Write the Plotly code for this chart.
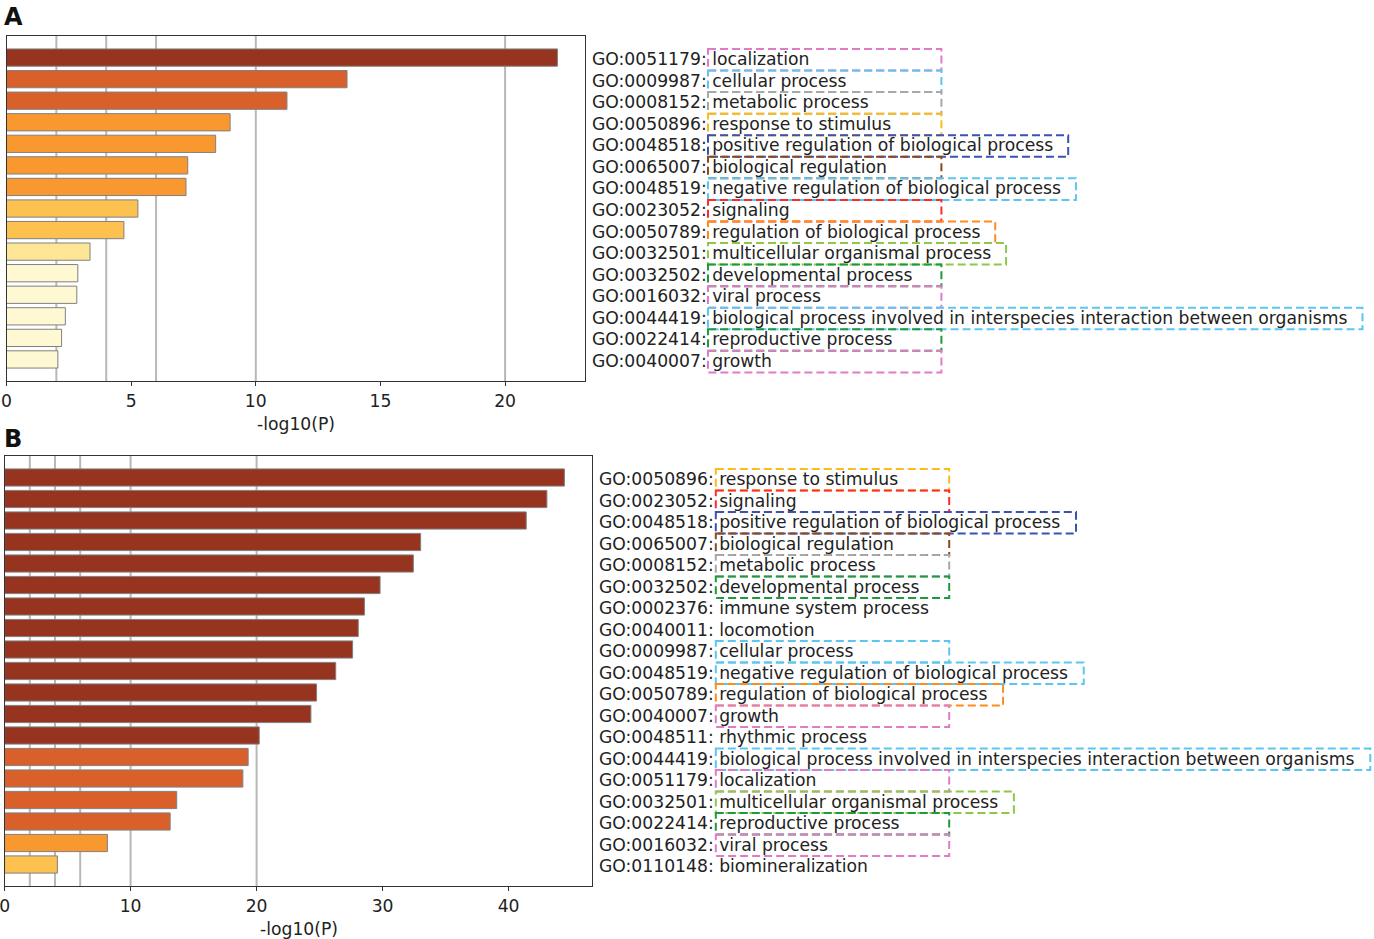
import plotly.graph_objects as go

W, H = 1374, 939
FONT = "DejaVu Sans"
FS = 17.2

# ---------------- data ----------------
a_ids = ["GO:0051179", "GO:0009987", "GO:0008152", "GO:0050896", "GO:0048518",
         "GO:0065007", "GO:0048519", "GO:0023052", "GO:0050789", "GO:0032501",
         "GO:0032502", "GO:0016032", "GO:0044419", "GO:0022414", "GO:0040007"]
a_terms = ["localization", "cellular process", "metabolic process", "response to stimulus",
           "positive regulation of biological process", "biological regulation",
           "negative regulation of biological process", "signaling",
           "regulation of biological process", "multicellular organismal process",
           "developmental process", "viral process",
           "biological process involved in interspecies interaction between organisms",
           "reproductive process", "growth"]
a_values = [22.1, 13.66, 11.25, 8.97, 8.39, 7.27, 7.2, 5.27, 4.71, 3.35,
            2.86, 2.82, 2.36, 2.21, 2.06]

b_ids = ["GO:0050896", "GO:0023052", "GO:0048518", "GO:0065007", "GO:0008152",
         "GO:0032502", "GO:0002376", "GO:0040011", "GO:0009987", "GO:0048519",
         "GO:0050789", "GO:0040007", "GO:0048511", "GO:0044419", "GO:0051179",
         "GO:0032501", "GO:0022414", "GO:0016032", "GO:0110148"]
b_terms = ["response to stimulus", "signaling", "positive regulation of biological process",
           "biological regulation", "metabolic process", "developmental process",
           "immune system process", "locomotion", "cellular process",
           "negative regulation of biological process", "regulation of biological process",
           "growth", "rhythmic process",
           "biological process involved in interspecies interaction between organisms",
           "localization", "multicellular organismal process", "reproductive process",
           "viral process", "biomineralization"]
b_values = [44.43, 43.04, 41.4, 33.02, 32.44, 29.8, 28.56, 28.07, 27.62, 26.28,
            24.76, 24.31, 20.21, 19.33, 18.91, 13.66, 13.14, 8.16, 4.19]

tick_step_a = 5
tick_step_b = 10
grid_values = [2, 4, 6, 10, 20]
x_title = "-log10(P)"

# ---------------- style ----------------
bar_bins = [(20, "#963420"), (10, "#d9602a"), (6, "#f8982f"),
            (4, "#fdc14f"), (3, "#fee697"), (0, "#fef9d2")]

box_colors = {
    "localization": "#e07cc6",
    "growth": "#e07cc6",
    "viral process": "#e07cc6",
    "cellular process": "#5cc6f2",
    "negative regulation of biological process": "#5cc6f2",
    "biological process involved in interspecies interaction between organisms": "#5cc6f2",
    "metabolic process": "#a8a8a8",
    "response to stimulus": "#fbbc1a",
    "positive regulation of biological process": "#3a52b4",
    "biological regulation": "#8e4a1c",
    "signaling": "#ff2b2b",
    "regulation of biological process": "#ff8c1a",
    "multicellular organismal process": "#8cc84b",
    "developmental process": "#1c9a3e",
    "reproductive process": "#1c9a3e",
}

char_w = {'a': .613, 'b': .635, 'c': .550, 'd': .635, 'e': .615, 'f': .352, 'g': .635,
          'h': .634, 'i': .278, 'j': .278, 'k': .579, 'l': .278, 'm': .974, 'n': .634,
          'o': .612, 'p': .635, 'q': .635, 'r': .411, 's': .521, 't': .392, 'u': .634,
          'v': .592, 'w': .818, 'x': .592, 'y': .592, 'z': .525, ' ': .318}


def text_width(s):
    return sum(char_w.get(c, .6) for c in s) * FS


def bar_color(v):
    for thr, col in bar_bins:
        if v >= thr:
            return col
    return bar_bins[-1][1]


def px_x(p):
    return p / W


def px_y(p):
    return 1 - p / H


panels = [
    dict(ids=a_ids, terms=a_terms, vals=a_values, step=tick_step_a, name="A",
         xpx=(6.5, 585), ypx=(36, 381), label_px=591.5, letter_y=17, title_y=424,
         xa="x", ya="y"),
    dict(ids=b_ids, terms=b_terms, vals=b_values, step=tick_step_b, name="B",
         xpx=(4.6, 592.4), ypx=(456, 886), label_px=599.3, letter_y=439, title_y=929,
         xa="x2", ya="y2"),
]

fig = go.Figure()
shapes = []
annotations = []
layout_axes = {}

for k, p in enumerate(panels):
    n = len(p["vals"])
    idx = list(range(n))
    fig.add_trace(go.Bar(
        x=p["vals"], y=idx, orientation="h", width=0.8,
        marker=dict(color=[bar_color(v) for v in p["vals"]],
                    line=dict(color="#808080", width=1)),
        xaxis=p["xa"], yaxis=p["ya"], showlegend=False,
        hovertext=[f"{i}: {t}" for i, t in zip(p["ids"], p["terms"])],
    ))
    axfont = dict(family=FONT, size=FS, color="#222222")
    xkey = "xaxis" if k == 0 else "xaxis2"
    ykey = "yaxis" if k == 0 else "yaxis2"
    layout_axes[xkey] = dict(
        domain=[px_x(p["xpx"][0]), px_x(p["xpx"][1])],
        range=[0, max(p["vals"]) * 1.05], dtick=p["step"], tick0=0,
        showgrid=False, zeroline=False, showline=True, mirror=True,
        linecolor="#333333", linewidth=1.3, ticks="outside", ticklen=4,
        tickcolor="#333333", tickwidth=1.3, tickfont=axfont,
        ticklabeloverflow="allow",
        automargin=False, anchor=p["ya"],
    )
    layout_axes[ykey] = dict(
        domain=[px_y(p["ypx"][1]), px_y(p["ypx"][0])],
        range=[n, -1], showticklabels=False, ticks="", showgrid=False,
        zeroline=False, showline=True, mirror=True, linecolor="#333333",
        linewidth=1.3, automargin=False, anchor=p["xa"],
    )
    # axis title
    annotations.append(dict(
        text=x_title, x=px_x((p["xpx"][0] + p["xpx"][1]) / 2), xref="paper",
        y=px_y(p["title_y"]), yref="paper", xanchor="center", yanchor="middle",
        showarrow=False, font=axfont,
    ))
    # grid lines
    for g in grid_values:
        shapes.append(dict(type="line", xref=p["xa"], yref=f"{p['ya']} domain",
                           x0=g, x1=g, y0=0, y1=1, layer="below",
                           line=dict(color="#b8b8b8", width=2)))
    # labels and boxes
    box_left = p["label_px"] + 116.5
    for i, (gid, term) in enumerate(zip(p["ids"], p["terms"])):
        annotations.append(dict(
            text=f"{gid}: {term}", x=px_x(p["label_px"] - 2), xref="paper",
            y=i, yref=p["ya"], xanchor="left", yanchor="middle", showarrow=False,
            yshift=-1.5, font=dict(family=FONT, size=FS, color="#222222"),
        ))
        if term in box_colors:
            bw = max(233.4, text_width(term) + 18)
            shapes.append(dict(type="rect", xref="paper", yref=p["ya"],
                               x0=px_x(box_left), x1=px_x(box_left + bw),
                               y0=i - 0.40, y1=i + 0.60, layer="above",
                               line=dict(color=box_colors[term], width=2, dash="8px,4px"),
                               fillcolor="rgba(0,0,0,0)"))
    annotations.append(dict(
        text=f"<b>{p['name']}</b>", x=px_x(2), xref="paper", y=px_y(p["letter_y"]),
        yref="paper", xanchor="left", yanchor="middle", showarrow=False,
        font=dict(family=FONT, size=24, color="#111111"),
    ))

fig.update_layout(
    width=W, height=H, margin=dict(l=0, r=0, t=0, b=0, autoexpand=False),
    paper_bgcolor="white", plot_bgcolor="white",
    shapes=shapes, annotations=annotations, bargap=0.2,
    font=dict(family=FONT, size=FS, color="#222222"),
    **layout_axes,
)

fig.write_html("out.html", config={"displayModeBar": False})

# remove the default page margin so the figure sits at the window's top-left corner
with open("out.html", "r", encoding="utf-8") as fh:
    html = fh.read()
html = html.replace("<head>", "<head><style>html,body{margin:0;padding:0;overflow:hidden;}</style>", 1)
with open("out.html", "w", encoding="utf-8") as fh:
    fh.write(html)
